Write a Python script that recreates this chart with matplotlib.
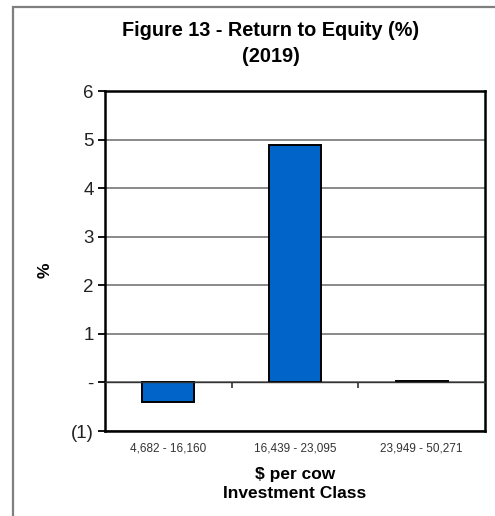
import matplotlib
matplotlib.use("Agg")
import matplotlib.pyplot as plt
from matplotlib.patches import Rectangle

plt.rcParams['font.family'] = ['Liberation Sans', 'DejaVu Sans']

categories = ["4,682 - 16,160", "16,439 - 23,095", "23,949 - 50,271"]
values = [-0.41, 4.88, 0.03]
y_ticks = [-1, 0, 1, 2, 3, 4, 5, 6]
y_tick_labels = ["(1)", "-", "1", "2", "3", "4", "5", "6"]

W, H = 495, 516
fig = plt.figure(figsize=(W / 100, H / 100), dpi=100)

# outer chart border (top and left visible)
fig.patches.append(Rectangle((13 / W, -0.1), 1.2, 1 - 7 / H + 0.1,
                             transform=fig.transFigure, fill=False,
                             edgecolor="#7f7f7f", linewidth=1.6))

ax = fig.add_axes([105 / W, 1 - 431 / H, 380 / W, 340 / H])
x = list(range(len(categories)))
ax.bar(x, values, width=0.41, color="#0064C8", edgecolor="black",
       linewidth=1.4, zorder=3)

ax.set_xlim(-0.5, len(categories) - 0.5)
ax.set_ylim(-1, 6)
ax.set_yticks(y_ticks)
ax.set_yticklabels(y_tick_labels, fontsize=13.5, color="#222222")
ax.grid(axis="y", color="#808080", linewidth=1.3, zorder=0)
ax.set_axisbelow(True)
for s in ax.spines.values():
    s.set_linewidth(1.8)
    s.set_color("black")
ax.tick_params(axis="y", length=5, width=1.3, pad=3)
ax.set_xticks(x)
ax.set_xticklabels(categories, fontsize=8.5, color="#333333")
ax.tick_params(axis="x", length=0, pad=8)

# category axis crossing at zero with tick marks between categories
ax2 = ax.twiny()
ax2.set_xlim(ax.get_xlim())
ax2.xaxis.set_ticks_position("bottom")
ax2.spines["bottom"].set_position(("data", 0))
for k in ["top", "left", "right"]:
    ax2.spines[k].set_visible(False)
ax2.spines["bottom"].set_linewidth(1.0)
ax2.spines["bottom"].set_color("#333333")
ax2.set_xticks([0.5, 1.5])
ax2.set_xticklabels([])
ax2.tick_params(axis="x", direction="out", length=4, width=1.2, color="#333333")

fig.text(45 / W, 1 - 270 / H, "%", rotation=90, ha="center", va="center",
         fontsize=12.5, fontweight="bold")
ax.set_xlabel("$ per cow\nInvestment Class", fontsize=12.5, fontweight="bold",
              linespacing=1.4, labelpad=9)

fig.text(271 / W, 1 - 30 / H, "Figure 13 - Return to Equity (%)",
         ha="center", va="center", fontsize=14.3, fontweight="bold")
fig.text(271 / W, 1 - 57 / H, "(2019)",
         ha="center", va="center", fontsize=14.3, fontweight="bold")

fig.savefig("out.png", dpi=100)
